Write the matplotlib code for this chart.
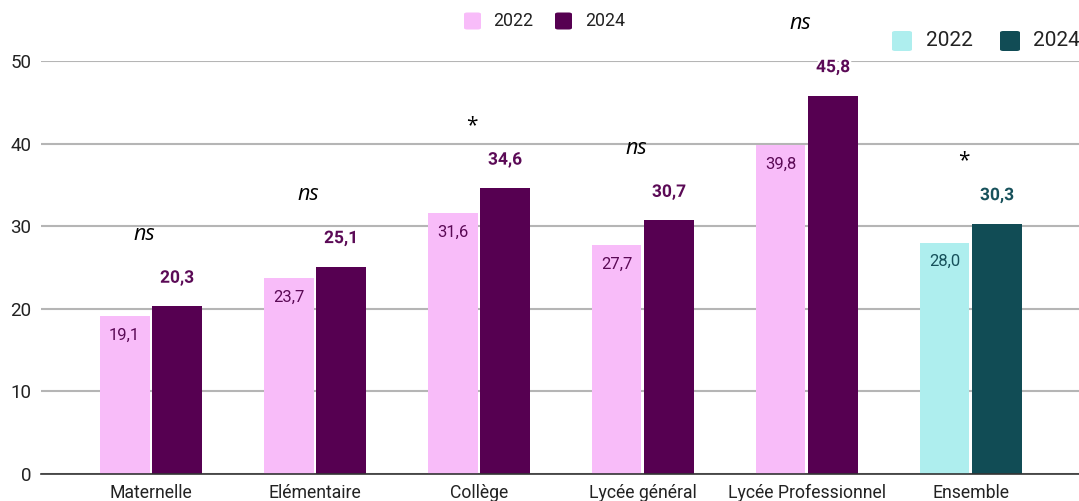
import matplotlib
matplotlib.use("Agg")
import matplotlib.pyplot as plt
import matplotlib.patheffects as pe
from matplotlib.patches import FancyBboxPatch
import numpy as np

categories = ["Maternelle", "Elémentaire", "Collège", "Lycée général", "Lycée Professionnel", "Ensemble"]
values_2022 = [19.1, 23.7, 31.6, 27.7, 39.8, 28.0]
values_2024 = [20.3, 25.1, 34.6, 30.7, 45.8, 30.3]
significance = ["ns", "ns", "*", "ns", "ns", "*"]
series_labels = ["2022", "2024"]

PINK, PURPLE = "#f8bcf9", "#560051"
CYAN, TEAL = "#aeeeee", "#114c55"
PINK_TXT, TEAL_TXT = "#5b0a56", "#17515b"

W, H = 1079, 501
plt.rcParams['font.family'] = ['Roboto', 'DejaVu Sans']
fig = plt.figure(figsize=(W / 100, H / 100), dpi=100)

def fx(x):
    return x / W

def fy(y):
    return 1 - y / H

ax = fig.add_axes([fx(41), fy(474), fx(1079) - fx(41), fy(61) - fy(474)])
ax.set_ylim(0, 50)
ax.set_xlim(-0.67, 5.66)

x = np.arange(len(categories))
bw = 0.304
off = 0.16
light = [PINK] * 5 + [CYAN]
dark = [PURPLE] * 5 + [TEAL]
txtc = [PINK_TXT] * 5 + [TEAL_TXT]

ax.bar(x - off, values_2022, width=bw, color=light, zorder=3)
ax.bar(x + off, values_2024, width=bw, color=dark, zorder=3)

halo = [pe.withStroke(linewidth=3.5, foreground="white")]
for i in range(len(categories)):
    ax.text(x[i] - off, values_2022[i] - 2.3, f"{values_2022[i]:.1f}".replace(".", ","),
            ha="center", va="center", fontsize=12, color=txtc[i], zorder=5)
    ax.text(x[i] + off, values_2024[i] + 3.4, f"{values_2024[i]:.1f}".replace(".", ","),
            ha="center", va="center", fontsize=12.5, fontweight="bold", color=txtc[i],
            path_effects=halo, zorder=5)
    top = max(values_2022[i], values_2024[i])
    if significance[i] == "*":
        ax.text(x[i] - 0.04, top + 7.6, "*", ha="center", va="center", fontsize=15,
                family=["Open Sans", "DejaVu Sans"], color="black", clip_on=False)
    else:
        ax.text(x[i] - 0.04, top + 8.7, "ns", ha="center", va="center", fontsize=15.5,
                family=["Open Sans", "DejaVu Sans"], style="italic", color="black", clip_on=False)

ax.set_yticks(range(0, 51, 10))
ax.yaxis.grid(True, color="#b5b5b5", linewidth=1.5, zorder=0)
ax.set_axisbelow(True)
for s in ["top", "right", "left"]:
    ax.spines[s].set_visible(False)
ax.spines["bottom"].set_color("#333333")
ax.spines["bottom"].set_linewidth(1.2)
ax.spines["bottom"].set_zorder(4)
ax.set_xticks(x)
ax.set_xticklabels(categories)
ax.tick_params(axis="both", length=0, colors="#222222", labelsize=12.7)
ax.tick_params(axis="y", pad=7, labelsize=13.5)
ax.tick_params(axis="x", pad=7)

# legends drawn in figure pixel coordinates
def legend_item(x0, yc, size, color, label, fsize, textx):
    r = FancyBboxPatch((fx(x0), fy(yc + size / 2)), size / W, size / H,
                       boxstyle="round,pad=0,rounding_size=0.003",
                       transform=fig.transFigure, facecolor=color, edgecolor="none")
    fig.patches.append(r)
    fig.text(fx(textx), fy(yc), label, ha="left", va="center", fontsize=fsize, color="#222222")

legend_item(464, 21, 17, PINK, series_labels[0], 12.8, 493)
legend_item(555, 21, 17, PURPLE, series_labels[1], 12.8, 585)
legend_item(892, 41, 20, CYAN, series_labels[0], 15.0, 926)
legend_item(1000, 41, 20, TEAL, series_labels[1], 15.0, 1033)

fig.savefig("out.png", dpi=100)
